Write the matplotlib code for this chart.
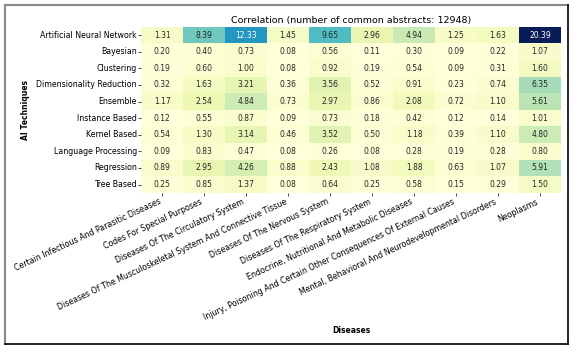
import numpy as np
import pandas as pd
import matplotlib
matplotlib.use('Agg')
import matplotlib.pyplot as plt
import seaborn as sns
from matplotlib.lines import Line2D

# AI techniques (rows) and disease groups (columns)
techniques = ['Artificial Neural Network', 'Bayesian', 'Clustering', 'Dimensionality Reduction',
              'Ensemble', 'Instance Based', 'Kernel Based', 'Language Processing',
              'Regression', 'Tree Based']
diseases = ['Certain Infectious And Parasitic Diseases',
            'Codes For Special Purposes',
            'Diseases Of The Circulatory System',
            'Diseases Of The Musculoskeletal System And Connective Tissue',
            'Diseases Of The Nervous System',
            'Diseases Of The Respiratory System',
            'Endocrine, Nutritional And Metabolic Diseases',
            'Injury, Poisoning And Certain Other Consequences Of External Causes',
            'Mental, Behavioral And Neurodevelopmental Disorders',
            'Neoplasms']

ann = [1.31, 8.39, 12.33, 1.45, 9.65, 2.96, 4.94, 1.25, 1.63, 20.39]
bayesian = [0.20, 0.40, 0.73, 0.08, 0.56, 0.11, 0.30, 0.09, 0.22, 1.07]
clustering = [0.19, 0.60, 1.00, 0.08, 0.92, 0.19, 0.54, 0.09, 0.31, 1.60]
dim_red = [0.32, 1.63, 3.21, 0.36, 3.56, 0.52, 0.91, 0.23, 0.74, 6.35]
ensemble = [1.17, 2.54, 4.84, 0.73, 2.97, 0.86, 2.08, 0.72, 1.10, 5.61]
instance = [0.12, 0.55, 0.87, 0.09, 0.73, 0.18, 0.42, 0.12, 0.14, 1.01]
kernel = [0.54, 1.30, 3.14, 0.46, 3.52, 0.50, 1.18, 0.39, 1.10, 4.80]
language = [0.09, 0.83, 0.47, 0.08, 0.26, 0.08, 0.28, 0.19, 0.28, 0.80]
regression = [0.89, 2.95, 4.26, 0.88, 2.43, 1.08, 1.88, 0.63, 1.07, 5.91]
tree = [0.25, 0.85, 1.37, 0.08, 0.64, 0.25, 0.58, 0.15, 0.29, 1.50]

df = pd.DataFrame([ann, bayesian, clustering, dim_red, ensemble, instance,
                   kernel, language, regression, tree],
                  index=techniques, columns=diseases)

fig = plt.figure(figsize=(5.76, 3.52), dpi=100)
ax = fig.add_axes([0.245, 0.452, 0.729, 0.4716])

sns.heatmap(df, cmap='YlGnBu', annot=True, fmt='.2f', cbar=False, ax=ax,
            annot_kws={'fontsize': 5.5})

ax.set_title('Correlation (number of common abstracts: 12948)', fontsize=6.8, pad=3)
ax.set_xlabel('Diseases', fontsize=5.5, fontweight='bold')
ax.set_ylabel('AI Techniques', fontsize=5.5, fontweight='bold', labelpad=5)
ax.xaxis.set_label_coords(0.5, -0.80)
ax.tick_params(axis='x', labelsize=5.7, length=2, width=0.5, pad=1)
ax.tick_params(axis='y', labelsize=5.7, length=2, width=0.5, pad=1)
plt.setp(ax.get_xticklabels(), rotation=25, ha='right')
plt.setp(ax.get_yticklabels(), rotation=0)

# frame around the figure (screenshot border)
fig.add_artist(Line2D([5/576, 5/576], [8/352, 347/352], color='#888888', lw=1.5))
fig.add_artist(Line2D([5/576, 568/576], [347/352, 347/352], color='#888888', lw=1.5))
fig.add_artist(Line2D([568/576, 568/576], [8/352, 347/352], color='black', lw=1.2))
fig.add_artist(Line2D([5/576, 568/576], [8/352, 8/352], color='black', lw=1.2))

plt.savefig('out.png', dpi=100)
